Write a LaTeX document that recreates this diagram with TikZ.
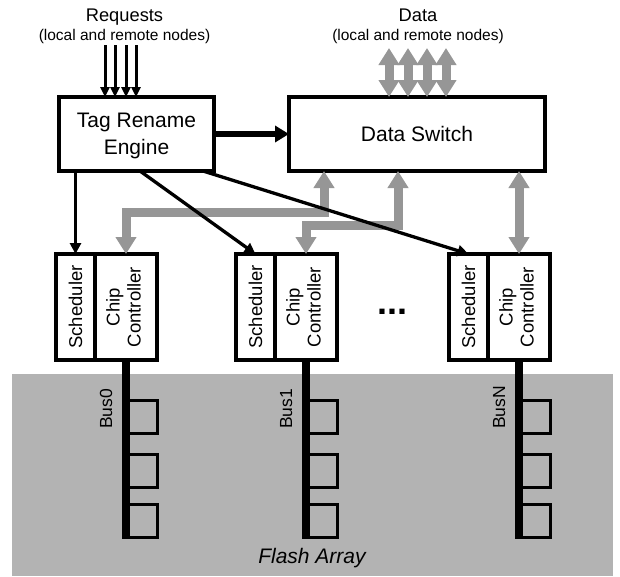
\documentclass[tikz,border=0pt]{standalone}
\usepackage{fontspec}
\setmainfont{Liberation Sans}
\usepackage{graphicx}
\usetikzlibrary{arrows.meta,positioning}

\definecolor{flashgray}{RGB}{179,179,179}
\definecolor{datagray}{RGB}{150,150,150}

\newcommand{\bigfont}{\fontsize{21}{27}\selectfont}
\newcommand{\midfont}{\fontsize{18.5}{21}\selectfont}
\newcommand{\smallfont}{\fontsize{15.5}{18}\selectfont}
\newcommand{\buslblfont}{\fontsize{17.5}{20}\selectfont}

\tikzset{
  box/.style={draw, line width=4pt, fill=white, inner sep=0pt, outer sep=0pt, align=center, font=\bigfont},
  unitbox/.style={box, minimum height=106pt, font=\midfont},
  chip/.style={draw, line width=3pt},
  bus/.style={line width=8.5pt},
  ctrl/.style={line width=3.3pt, -{Triangle[length=11pt,width=11pt]}},
  req/.style={line width=3pt, -{Triangle[length=10pt,width=9pt]}},
  thickarrow/.style={line width=6pt, -{Triangle[length=14pt,width=16pt]}},
  garrow/.style={datagray, line width=9pt, {Triangle[length=17pt,width=20pt]}-{Triangle[length=17pt,width=20pt]}},
  buslbl/.style={rotate=90, inner sep=0pt, font=\buslblfont},
}

\begin{document}
\begin{tikzpicture}[x=1pt, y=-1pt]
  \useasboundingbox (0,0) rectangle (620,576);

  % Flash array background
  \fill[flashgray] (12,374) rectangle (613,576);
  \node[font=\bigfont\itshape, anchor=base] (flash) at (312,563) {Flash Array};

  % Top level blocks
  \node[box, minimum width=155pt, minimum height=74pt, text depth=0pt] (tre) at (136.5,134) {Tag Rename\\Engine};
  \node[box, minimum width=256pt, minimum height=74pt] (ds) at (417,134) {Data Switch};

  % Labels on top
  \node[font=\fontsize{18.3}{20}\selectfont, anchor=base] (req) at (124.5,21) {Requests};
  \node[font=\smallfont, anchor=base] (reqsub) at (124.5,40) {(local and remote nodes)};
  \node[font=\fontsize{18.3}{20}\selectfont, anchor=base] (data) at (418,21) {Data};
  \node[font=\smallfont, anchor=base] (datasub) at (418,40) {(local and remote nodes)};

  % Free ends of the top arrows
  \path
  (124.5,45) coordinate(reqtop)
  (418,48) coordinate(datatop);

  % Scheduler / chip controller per bus
  \foreach \i/\x/\b in {0/56/Bus0, 1/236/Bus1, 2/449/BusN} {
    \node[unitbox, minimum width=39pt, anchor=north west] (sch\i) at (\x,254)
      {\rotatebox{90}{Scheduler}};
    \node[unitbox, minimum width=62pt, right=0pt of sch\i] (cc\i)
      {\rotatebox{90}{\begin{tabular}{@{}c@{}}Chip\\Controller\end{tabular}}};
    % flash chips on the bus
    \foreach \t in {400.5,454.5,504.5}
      \draw[chip] (cc\i.south |- 0,\t) rectangle (cc\i.east |- 0,\t+33);
    \coordinate (busend\i) at (cc\i.south |- 0,539);
    \draw[bus] (cc\i.south) -- (busend\i);
    \coordinate (bl\i) at (cc\i.south |- 0,429);
    \node[buslbl, anchor=south west] (lbl\i) at ([xshift=-13.5pt]bl\i) {\b};
  }

  \node[font=\fontsize{36}{36}\selectfont\bfseries, anchor=base] (dots) at (392,314) {...};

  % Data paths (gray)
  \draw[garrow] (cc0.north) |- (324,212) -- (ds.south -| 324,0);
  \draw[garrow] (cc1.north) |- (398,225) -- (ds.south -| 398,0);
  \draw[garrow] (cc2.north) -- (ds.south -| cc2.north);
  \foreach \x in {389,408,427,446}
    \draw[garrow] (ds.north -| \x,0) -- (\x,0 |- datatop);

  % Requests and commands (black)
  \foreach \x in {105,115,126,136}
    \draw[req] (\x,0 |- reqtop) -- (\x,0 |- tre.north);
  \draw[thickarrow] (tre) -- (ds);
  \draw[ctrl] (sch0.north |- tre.south) -- (sch0.north);
  \draw[ctrl] (140,0 |- tre.south) -- (sch1.north);
  \draw[ctrl] (203,0 |- tre.south) -- (sch2.north);
\end{tikzpicture}
\end{document}
